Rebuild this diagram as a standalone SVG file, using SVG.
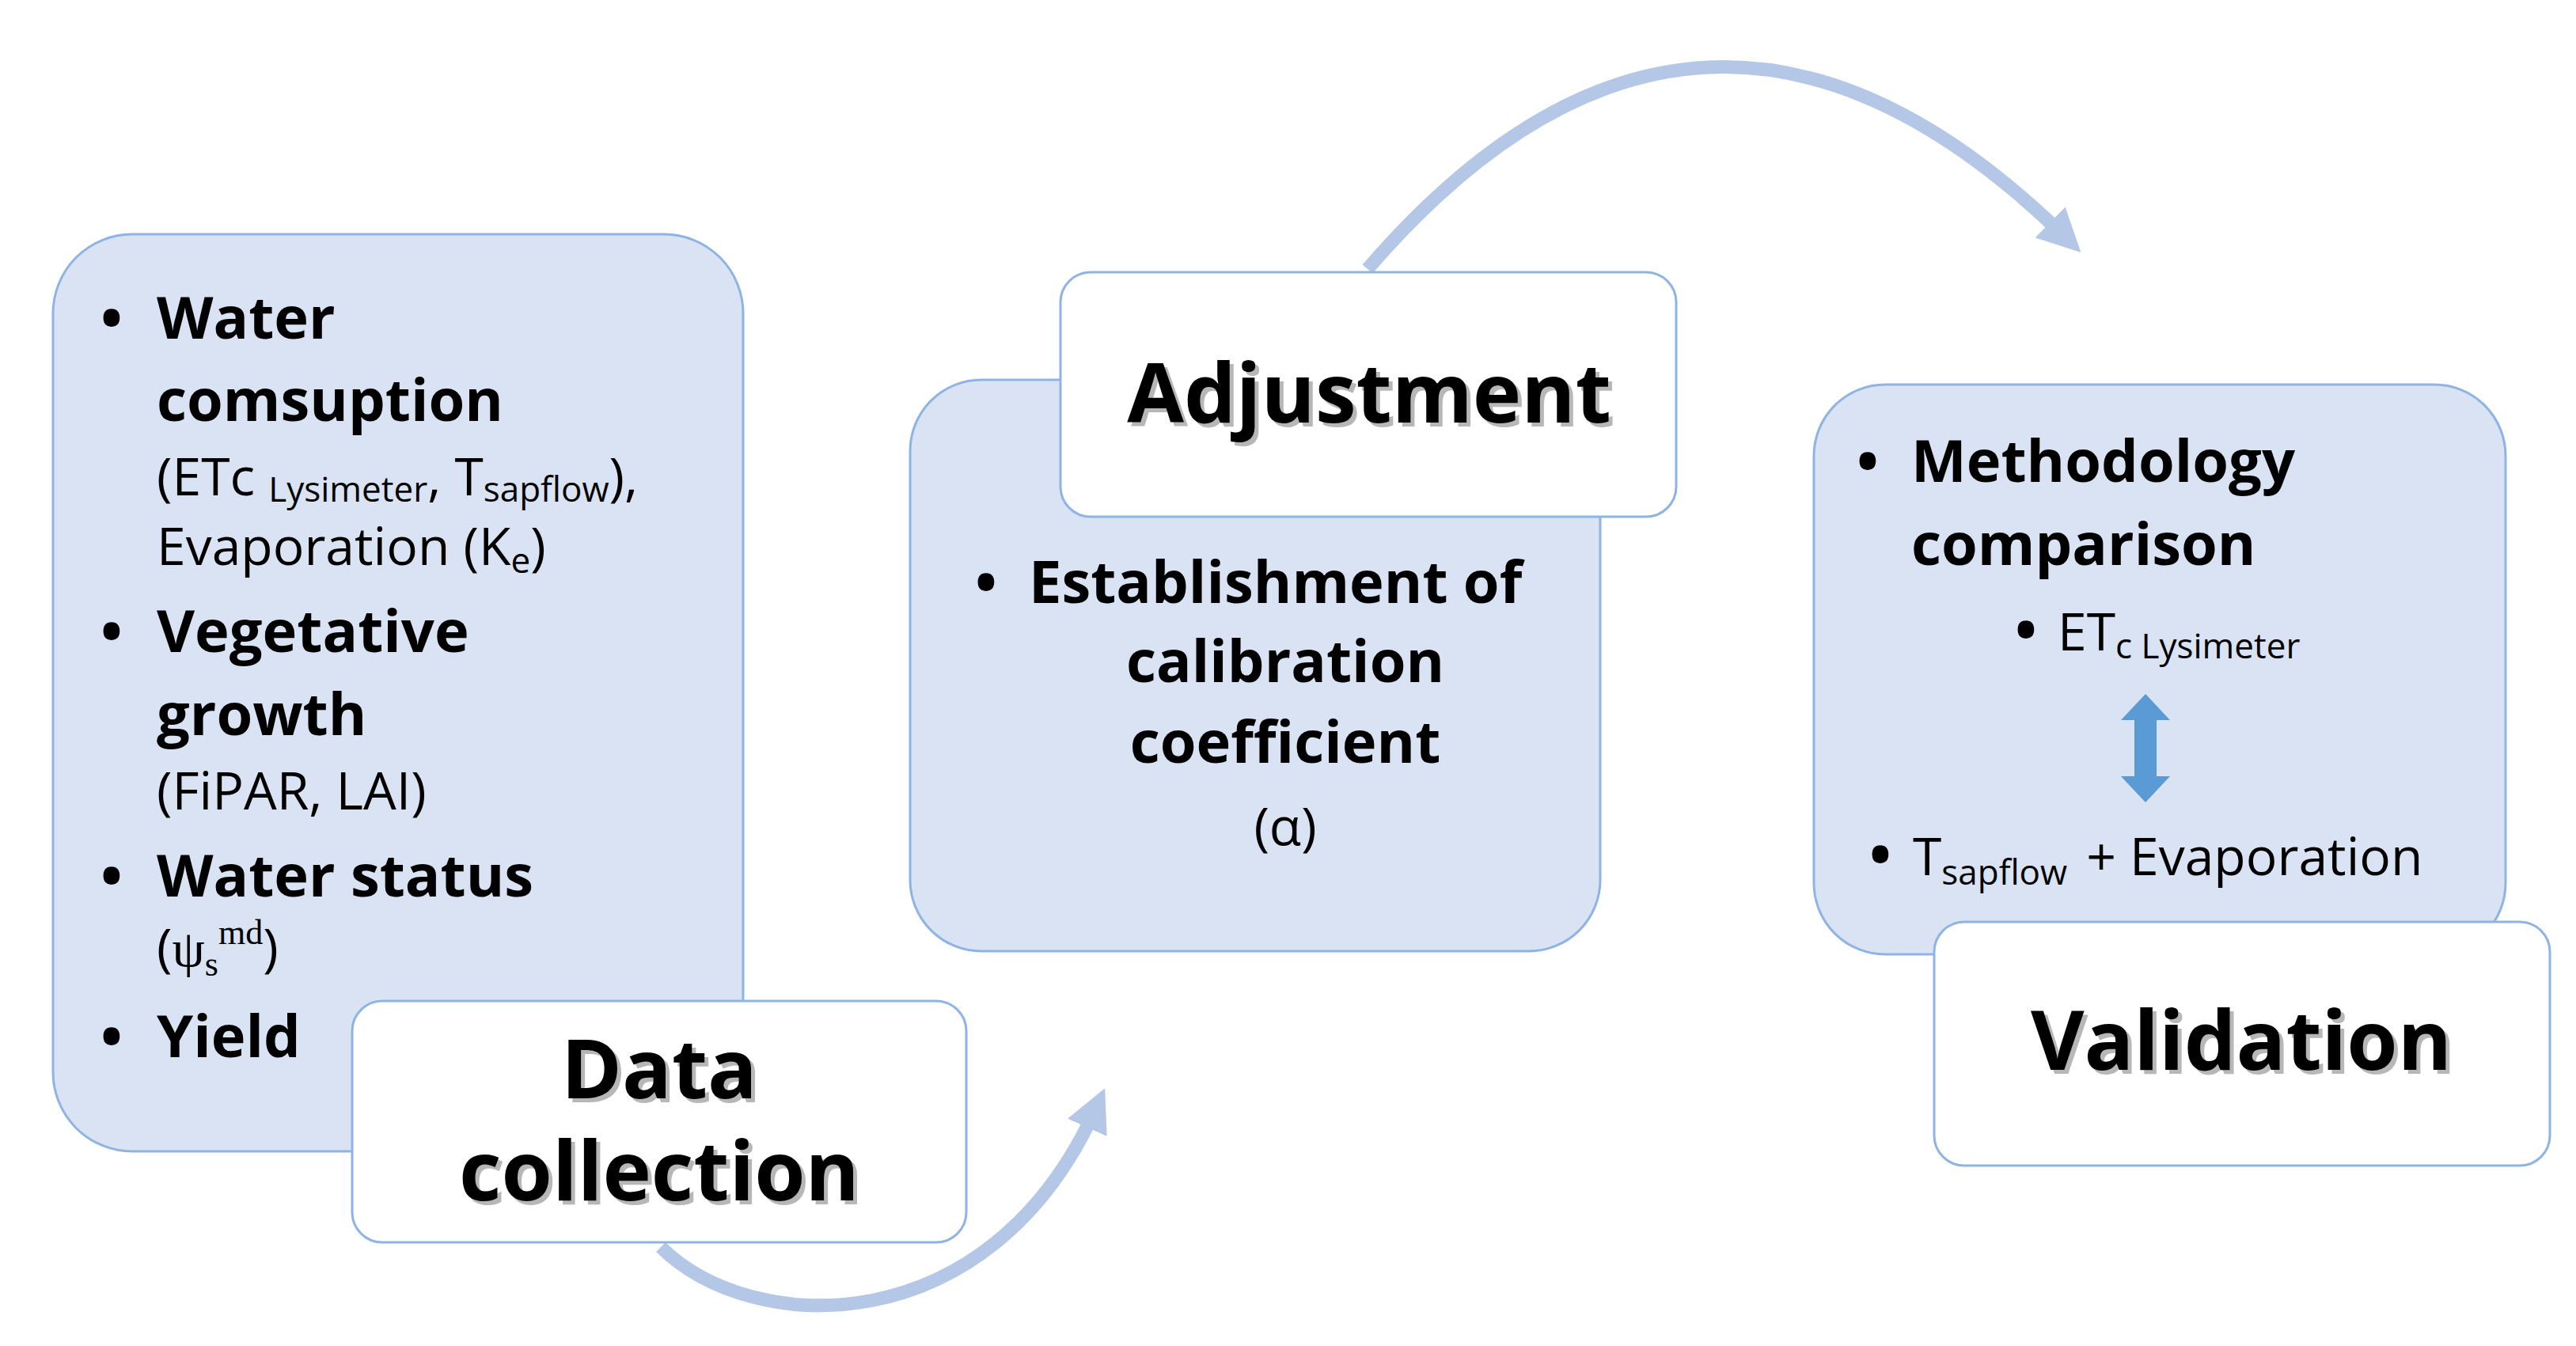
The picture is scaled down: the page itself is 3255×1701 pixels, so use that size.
<svg xmlns="http://www.w3.org/2000/svg" width="3255" height="1701" viewBox="0 0 3255 1701">
<style>
.blue{fill:#dae3f3;stroke:#8fb4e3;stroke-width:3}
.white{fill:#ffffff;stroke:#8fb4e3;stroke-width:3}
.b{font-family:"Open Sans","Liberation Sans",sans-serif;font-weight:bold;font-size:74px;fill:#000}
.r{font-family:"Open Sans","Liberation Sans",sans-serif;font-size:66px;fill:#000}
.t{font-family:"Open Sans","Liberation Sans",sans-serif;font-weight:bold;font-size:104px;fill:#000;text-anchor:middle}
.sh{fill:#888;opacity:0.6}
.arc{fill:none;stroke:#b4c7e7;stroke-width:17}
</style>
<defs>
<marker id="ah" viewBox="0 0 10 10" refX="5" refY="5" markerWidth="3.2" markerHeight="3.2" orient="auto" markerUnits="strokeWidth">
<path d="M0,0 L10,5 L0,10 z" fill="#b4c7e7"/>
</marker>
</defs>
<rect width="3255" height="1701" fill="#fff"/>
<g id="connectors">
<path class="arc" d="M835,1576 C950,1690 1250,1700 1385,1400" marker-end="url(#ah)"/>
<path class="arc" d="M1728,340 Q2150,-150 2610,300" marker-end="url(#ah)"/>
</g>
<g id="data-details">
<rect class="blue" x="67" y="296" width="872" height="1159" rx="100"/>
<text class="b" x="127" y="428">•</text><text class="b" x="198" y="428">Water</text>
<text class="b" x="198" y="532">comsuption</text>
<text class="r" x="198" y="626">(ETc <tspan font-size="44" dy="8">Lysimeter</tspan><tspan dy="-8">, T</tspan><tspan font-size="44" dy="8">sapflow</tspan><tspan dy="-8">),</tspan></text>
<text class="r" x="198" y="714">Evaporation (K<tspan font-size="44" dy="10">e</tspan><tspan dy="-10">)</tspan></text>
<text class="b" x="127" y="824">•</text><text class="b" x="198" y="824">Vegetative</text>
<text class="b" x="198" y="929">growth</text>
<text class="r" x="198" y="1023">(FiPAR, LAI)</text>
<text class="b" x="127" y="1133">•</text><text class="b" x="198" y="1133">Water status</text>
<text class="r" x="198" y="1221">(<tspan font-family="Liberation Serif,serif">ψ<tspan font-size="44" dy="12">s</tspan><tspan font-size="44" dy="-40">md</tspan></tspan><tspan dy="28">)</tspan></text>
<text class="b" x="127" y="1336">•</text><text class="b" x="198" y="1336">Yield</text>
</g>
<g id="data-collection">
<rect class="white" x="445" y="1265" width="776" height="305" rx="38"/>
<text class="t sh" x="838" y="1393">Data</text><text class="t sh" x="838" y="1522">collection</text>
<text class="t" x="833" y="1388">Data</text><text class="t" x="833" y="1517">collection</text>
</g>
<g id="adjustment-details">
<rect class="blue" x="1150" y="480" width="872" height="722" rx="90"/>
<text class="b" x="1232" y="762">•</text><text class="b" x="1300" y="762">Establishment of</text>
<text class="b" x="1624" y="862" text-anchor="middle">calibration</text>
<text class="b" x="1624" y="964" text-anchor="middle">coefficient</text>
<text class="r" x="1624" y="1068" text-anchor="middle" font-size="80">(α)</text>
</g>
<g id="adjustment">
<rect class="white" x="1340" y="344" width="778" height="309" rx="38"/>
<text class="t sh" x="1735" y="539">Adjustment</text>
<text class="t" x="1730" y="534">Adjustment</text>
</g>
<g id="validation-details">
<rect class="blue" x="2292" y="486" width="874" height="720" rx="90"/>
<text class="b" x="2346" y="609">•</text><text class="b" x="2415" y="609">Methodology</text>
<text class="b" x="2415" y="714">comparison</text>
<text class="b" x="2546" y="822">•</text><text class="r" x="2600" y="822">ET<tspan font-size="44" dy="10">c Lysimeter</tspan></text>
<path d="M2711,877 L2742,910 L2725,910 L2725,981 L2742,981 L2711,1014 L2680,981 L2697,981 L2697,910 L2680,910 Z" fill="#5b9bd5"/>
<text class="b" x="2362" y="1106">•</text><text class="r" x="2417" y="1106">T<tspan font-size="44" dy="12">sapflow</tspan><tspan dx="24" dy="-12">+ Evaporation</tspan></text>
</g>
<g id="validation">
<rect class="white" x="2444" y="1165" width="778" height="308" rx="38"/>
<text class="t sh" x="2837" y="1357">Validation</text>
<text class="t" x="2832" y="1352">Validation</text>
</g>
</svg>
